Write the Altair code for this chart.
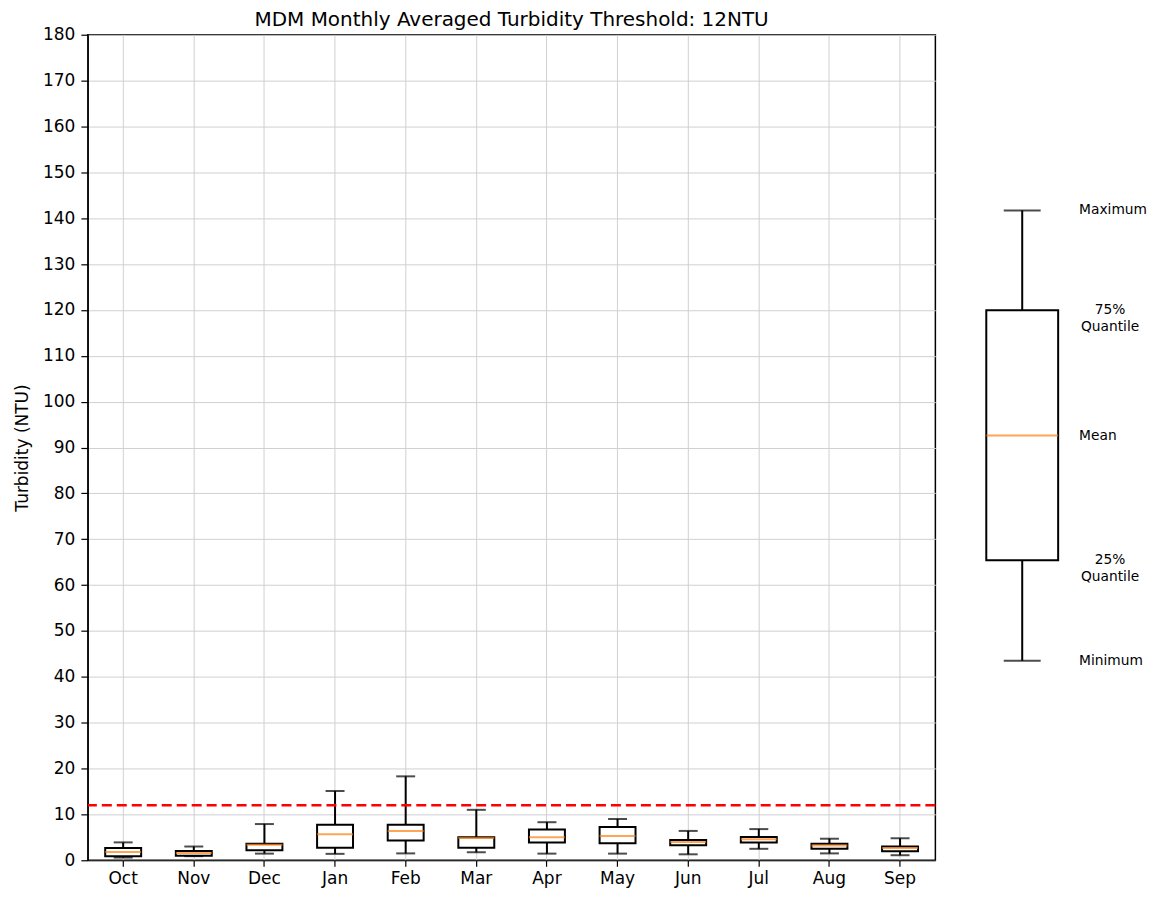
import altair as alt
import pandas as pd

# ---- data ----
months = ["Oct", "Nov", "Dec", "Jan", "Feb", "Mar", "Apr", "May", "Jun", "Jul", "Aug", "Sep"]
mins = [0.6, 0.9, 1.45, 1.4, 1.5, 1.75, 1.45, 1.45, 1.3, 2.5, 1.5, 1.1]
q1s = [0.9, 1.0, 2.2, 2.75, 4.3, 2.75, 3.9, 3.7, 3.3, 3.9, 2.5, 1.95]
means = [1.8, 1.6, 3.4, 5.65, 6.4, 4.85, 5.0, 5.3, 4.0, 4.6, 3.2, 2.7]
q3s = [2.7, 2.0, 3.6, 7.75, 7.75, 5.0, 6.7, 7.25, 4.4, 5.1, 3.6, 3.0]
maxs = [3.9, 3.0, 7.9, 15.1, 18.3, 11.0, 8.3, 9.0, 6.4, 6.8, 4.7, 4.8]
threshold = [12]

legend_key = ["legend"]
legend_min = [43.5]
legend_q1 = [65.4]
legend_mean = [92.6]
legend_q3 = [119.9]
legend_max = [141.7]
legend_single_labels = ["Maximum", "Mean", "Minimum"]
legend_single_values = [141.7, 92.6, 43.5]
legend_double_labels = ["75%\nQuantile", "25%\nQuantile"]
legend_double_values = [119.9, 65.4]

y_ticks = list(range(0, 181, 10))

FONT = "DejaVu Sans"
ORANGE = "#ff7f0e"

df = pd.DataFrame({"month": months, "min": mins, "q1": q1s, "mean": means, "q3": q3s, "max": maxs})
thr_df = pd.DataFrame({"t": threshold})

yscale = alt.Scale(domain=[0, 180], nice=False, zero=False)
yaxis = alt.Axis(values=y_ticks, title="Turbidity (NTU)", grid=True, gridColor="#d0d0d0",
                 labelFontSize=17, titleFontSize=17, titleFontWeight="normal",
                 labelColor="black", titleColor="black", tickColor="black",
                 domainColor="black", tickSize=7, tickWidth=1.2, labelPadding=6,
                 titlePadding=11, labelFont=FONT, titleFont=FONT)


def Y(f):
    return alt.Y(f"{f}:Q", scale=yscale, axis=yaxis)


xenc = alt.X("month:N", sort=months,
             scale=alt.Scale(type="band", domain=months, paddingInner=0, paddingOuter=0),
             axis=alt.Axis(title=None, labelAngle=0, grid=True, gridColor="#d0d0d0",
                           labelFontSize=17, labelColor="black", tickColor="black",
                           domainColor="black", tickSize=6, tickWidth=1.2, labelPadding=4,
                           labelFont=FONT))

base = alt.Chart(df).encode(x=xenc)

SW = 2
lower = base.mark_rule(color="black", strokeWidth=SW).encode(y=Y("min"), y2="q1:Q")
upper = base.mark_rule(color="black", strokeWidth=SW).encode(y=Y("q3"), y2="max:Q")
box = base.mark_bar(size=36, fill="white", stroke="black", strokeWidth=SW).encode(y=Y("q1"), y2="q3:Q")
med = base.mark_tick(color=ORANGE, size=36, thickness=2).encode(y=Y("mean"))
cap_lo = base.mark_tick(color="black", size=19, thickness=SW).encode(y=Y("min"))
cap_hi = base.mark_tick(color="black", size=19, thickness=SW).encode(y=Y("max"))
thr = alt.Chart(thr_df).mark_rule(color="red", strokeDash=[10, 5], strokeWidth=2.6).encode(y=Y("t"))

main = alt.layer(lower, upper, box, med, cap_lo, cap_hi, thr).properties(
    width=849, height=827,
    view=alt.ViewBackground(stroke="black", strokeWidth=1.5),
    title=alt.TitleParams("MDM Monthly Averaged Turbidity Threshold: 12NTU", fontSize=20,
                          font=FONT, fontWeight="normal", color="black", offset=-4, anchor="middle"),
)

# ---- explanatory legend box ----
leg_df = pd.DataFrame({"key": legend_key, "min": legend_min, "q1": legend_q1, "mean": legend_mean,
                       "q3": legend_q3, "max": legend_max})
lyscale = alt.Scale(domain=[0, 180], nice=False, zero=False)


def LY(f):
    return alt.Y(f"{f}:Q", scale=lyscale, axis=None)


lx = alt.X("key:N", scale=alt.Scale(type="band", paddingInner=0, paddingOuter=0), axis=None)
lbase = alt.Chart(leg_df).encode(x=lx)
l_lower = lbase.mark_rule(color="black", strokeWidth=SW).encode(y=LY("min"), y2="q1:Q")
l_upper = lbase.mark_rule(color="black", strokeWidth=SW).encode(y=LY("q3"), y2="max:Q")
l_box = lbase.mark_bar(size=72, fill="white", stroke="black", strokeWidth=SW).encode(y=LY("q1"), y2="q3:Q")
l_med = lbase.mark_tick(color=ORANGE, size=72, thickness=2).encode(y=LY("mean"))
l_cap_lo = lbase.mark_tick(color="black", size=37, thickness=SW).encode(y=LY("min"))
l_cap_hi = lbase.mark_tick(color="black", size=37, thickness=SW).encode(y=LY("max"))

single_df = pd.DataFrame({"key": legend_key * len(legend_single_labels),
                          "label": legend_single_labels, "v": legend_single_values})
double_df = pd.DataFrame({"key": legend_key * len(legend_double_labels),
                          "label": legend_double_labels, "v": legend_double_values})
l_single = alt.Chart(single_df).mark_text(align="left", baseline="middle", dx=57, fontSize=13.8,
                                          font=FONT, color="black").encode(
    x=lx, y=LY("v"), text="label:N")
l_double = alt.Chart(double_df).mark_text(align="center", baseline="middle", dx=88, fontSize=13.8,
                                          font=FONT, color="black", lineBreak="\n",
                                          lineHeight=17).encode(
    x=lx, y=LY("v"), text="label:N")

legend = alt.layer(l_lower, l_upper, l_box, l_med, l_cap_lo, l_cap_hi, l_single, l_double).properties(
    width=148, height=827,
    view=alt.ViewBackground(strokeOpacity=0),
)

chart = alt.hconcat(main, legend, spacing=10).resolve_scale(x="independent", y="independent").properties(
    padding={"left": 4, "top": 0, "right": 0, "bottom": 0}
).configure(font=FONT)

chart.save("out.html", embed_options={"renderer": "svg", "actions": False})
